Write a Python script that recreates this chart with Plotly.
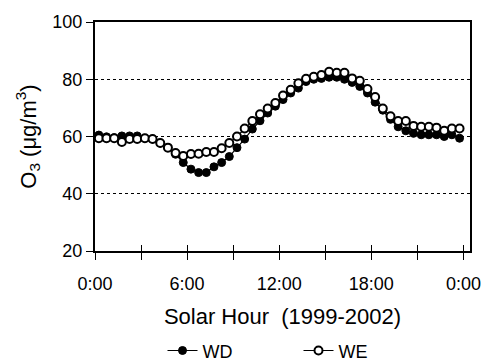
import plotly.graph_objects as go

# half-hourly solar time (hours)
hours = [0.25 + 0.5 * i for i in range(48)]

wd = [60.5, 59.9, 59.6, 60.2, 60.2, 60.2, 59.4, 59.1, 57.7, 56.1, 53.8, 50.9,
      48.6, 47.4, 47.4, 49.4, 50.9, 53.0, 56.1, 59.1, 62.6, 65.5, 68.2, 70.6,
      72.9, 75.2, 76.9, 79.2, 80.0, 80.3, 80.7, 80.7, 80.0, 78.9, 77.5, 75.2,
      72.0, 69.2, 66.0, 63.4, 62.0, 61.1, 60.6, 60.6, 60.6, 60.0, 60.6, 59.4]

we = [59.4, 59.4, 59.4, 58.1, 59.1, 59.1, 59.4, 59.1, 57.7, 56.1, 54.2, 53.2,
      53.9, 54.0, 54.6, 54.6, 55.9, 57.7, 60.0, 62.8, 65.4, 67.8, 69.8, 71.7,
      74.3, 76.3, 78.6, 80.2, 80.9, 81.5, 82.6, 82.3, 82.3, 80.3, 79.5, 76.6,
      73.8, 69.8, 67.1, 65.4, 65.4, 63.7, 63.4, 63.4, 63.1, 62.0, 62.8, 62.8]

x_tickvals = [0, 3, 6, 9, 12, 15, 18, 21, 24]
x_ticktext = ["0:00", "", "6:00", "", "12:00", "", "18:00", "", "0:00"]
y_tickvals = [20, 40, 60, 80, 100]

FONT = "Liberation Sans, Arial, sans-serif"
FS = 18

fig = go.Figure()
fig.add_trace(go.Scatter(
    x=hours, y=wd, name="WD", mode="lines+markers",
    line=dict(color="black", width=1.2),
    marker=dict(symbol="circle", size=8, color="black",
                line=dict(color="black", width=1)),
))
fig.add_trace(go.Scatter(
    x=hours, y=we, name="WE", mode="lines+markers",
    line=dict(color="black", width=1.2),
    marker=dict(symbol="circle", size=8, color="white",
                line=dict(color="black", width=2)),
))
# invisible trace to carry the inside half of the crossing x ticks
fig.add_trace(go.Scatter(x=[0], y=[20], xaxis="x2", showlegend=False,
                         mode="markers", marker=dict(opacity=0),
                         hoverinfo="skip"))

fig.update_layout(
    width=490, height=363,
    margin=dict(l=95, r=20, t=22, b=112, autoexpand=False),
    paper_bgcolor="white", plot_bgcolor="white",
    font=dict(family=FONT, size=FS, color="black"),
    showlegend=True,
    legend=dict(orientation="h", x=0.18, xanchor="left",
                y=-0.355, yanchor="top",
                font=dict(size=FS), entrywidth=91, entrywidthmode="pixels",
                bgcolor="rgba(0,0,0,0)", tracegroupgap=0),
    xaxis=dict(range=[0, 24.43], tickvals=x_tickvals, ticktext=x_ticktext,
               ticks="outside", ticklen=7, tickcolor="black", tickwidth=1,
               ticklabelstandoff=8,
               showline=True, linecolor="black", linewidth=2, mirror=True,
               showgrid=False, zeroline=False,
               title=dict(text="Solar Hour  (1999-2002)", standoff=16),
               tickfont=dict(size=FS)),
    xaxis2=dict(range=[0, 24.43], overlaying="x", side="bottom",
                tickvals=x_tickvals, showticklabels=False,
                ticks="inside", ticklen=6, tickcolor="black", tickwidth=1,
                showline=False, showgrid=False, zeroline=False),
    yaxis=dict(range=[20, 100], tickvals=y_tickvals,
               ticks="outside", ticklen=7, tickcolor="black", tickwidth=1,
               showline=True, linecolor="black", linewidth=2, mirror=True,
               showgrid=True, gridcolor="black", griddash="dot", gridwidth=1,
               zeroline=False,
               title=dict(text="O<sub>3</sub> (μg/m<sup>3</sup>)", standoff=10),
               tickfont=dict(size=FS)),
)

fig.write_html("out.html")
